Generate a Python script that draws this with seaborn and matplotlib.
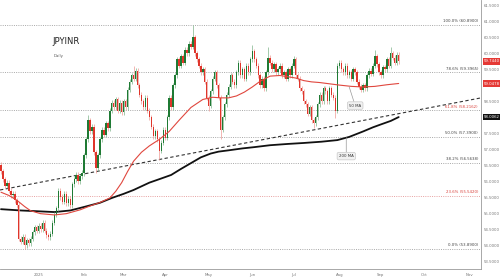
import numpy as np
import matplotlib
matplotlib.use("Agg")
import matplotlib.pyplot as plt
import matplotlib.transforms as mtransforms
import seaborn as sns

# ---------------- data ----------------
first_open = 56.50
closes = [
    56.30, 56.05, 55.85, 55.95, 55.70, 55.55, 55.60, 55.40, 55.25, 54.20,
    54.10, 54.25, 54.00, 54.15, 54.05, 54.20, 54.40, 54.55, 54.45, 54.60,
    54.50, 54.70, 54.45, 54.30, 54.25, 54.35, 54.70, 54.95, 55.15, 55.70,
    55.50, 55.35, 55.60, 55.30, 55.45, 55.25, 55.90, 56.05, 56.20, 56.00,
    56.15, 56.25, 56.80, 57.30, 57.90, 57.55, 57.70, 56.90, 56.40, 56.80,
    57.30, 57.60, 57.45, 57.80, 57.65, 58.20, 58.45, 58.30, 58.55, 58.20,
    58.45, 58.15, 58.50, 58.30, 58.85, 59.10, 59.30, 59.20, 59.45, 59.00,
    58.70, 58.50, 58.30, 58.60, 58.20, 58.00, 57.70, 57.40, 57.55, 57.30,
    56.95, 57.20, 57.60, 57.35, 58.00, 58.60, 58.30, 59.00, 59.30, 59.80,
    59.60, 59.90, 59.70, 60.10, 60.00, 60.30, 60.20, 60.50, 60.00, 59.80,
    59.60, 59.40, 59.50, 59.10, 58.60, 58.35, 58.80, 59.20, 59.40, 59.00,
    58.60, 57.60, 58.00, 58.40, 58.70, 58.95, 59.30, 59.10, 59.00, 59.40,
    59.70, 59.30, 59.50, 59.20, 59.60, 59.40, 59.80, 60.05, 59.80, 59.60,
    59.30, 59.00, 59.20, 58.90, 59.40, 59.85, 59.70, 59.50, 59.65, 59.40,
    59.50, 59.60, 59.30, 59.40, 59.20, 59.50, 59.30, 59.60, 59.80, 59.30,
    59.20, 58.90, 58.80, 58.50, 58.40, 58.10, 58.30, 57.90, 57.80, 58.00,
    58.40, 58.70, 58.50, 58.90, 58.80, 58.50, 58.90, 58.70, 58.60, 58.20,
    59.60, 59.70, 59.50, 59.40, 59.60, 59.30, 59.40, 59.20, 59.50, 59.40,
    59.10, 58.95, 58.85, 59.00, 58.90, 59.30, 59.45, 59.35, 59.60, 59.90,
    59.65, 59.40, 59.30, 59.55, 59.50, 59.80, 59.60, 60.00, 59.85, 59.70,
    59.95, 59.74,
]
wick = 0.08
high_marks = {44: 58.05, 67: 59.60, 97: 60.89, 127: 60.25, 135: 60.20,
              148: 59.90, 189: 60.10, 197: 60.20}
low_marks = {12: 53.89, 48: 56.25, 80: 56.65, 105: 58.20, 111: 57.30,
             158: 57.66, 169: 57.97}

ma50_idx = [0, 4, 8, 12, 15, 20, 27, 33, 40, 45, 50, 55, 58, 61, 64, 67,
            71, 75, 80, 85, 90, 96, 102, 107, 111, 115, 119, 123, 127, 131,
            136, 141, 145, 149, 153, 157, 161, 166, 171, 177, 183, 189, 195,
            201]
ma50_val = [55.65, 55.55, 55.40, 55.20, 55.07, 54.98, 54.94, 54.98, 55.10,
            55.22, 55.33, 55.47, 55.68, 55.95, 56.30, 56.62, 56.90, 57.10,
            57.30, 57.55, 57.90, 58.30, 58.55, 58.62, 58.60, 58.60, 58.66,
            58.78, 58.94, 59.12, 59.28, 59.30, 59.26, 59.22, 59.14, 59.10,
            59.08, 59.04, 59.00, 58.96, 58.94, 58.96, 59.01, 59.05]

ma200_idx = [0, 10, 17, 27, 35, 42, 50, 56, 62, 67, 75, 81, 86, 91, 96,
             101, 106, 110, 115, 122, 128, 136, 145, 153, 162, 170, 176,
             183, 188, 192, 197, 201]
ma200_val = [55.12, 55.08, 55.06, 55.03, 55.08, 55.19, 55.32, 55.47, 55.60,
             55.72, 55.95, 56.08, 56.19, 56.38, 56.56, 56.74, 56.86, 56.92,
             56.96, 57.02, 57.06, 57.12, 57.16, 57.19, 57.23, 57.28, 57.38,
             57.55, 57.68, 57.77, 57.88, 58.00]

trend_idx = [-0.5, 242.6]
trend_val = [55.72, 58.60]

fib_pct = ["100.0%", "78.6%", "61.8%", "50.0%", "38.2%", "23.6%", "0.0%"]
fib_val = [60.8900, 59.3965, 58.2162, 57.3900, 56.5638, 55.5420, 53.8900]
fib_red = [False, False, True, False, False, True, False]

month_idx = [19, 42, 62, 83, 105, 127, 148, 171, 192, 214, 237]
month_lbl = ["2025", "Feb", "Mar", "Apr", "May", "Jun", "Jul", "Aug", "Sep",
             "Oct", "Nov"]

price_ticks = [53.5 + 0.5 * k for k in range(17)]
last_price = 59.7440
ma50_last = 59.0478
ma200_last = 58.0062

# ---------------- drawing ----------------
sns.set_theme(style="white")
plt.rcParams["font.family"] = ["DejaVu Sans"]

fig = plt.figure(figsize=(5, 2.8), dpi=100)
ax = fig.add_axes([0, 11 / 280, 481 / 500, 269 / 280])

GREEN = "#1f7a34"
RED = "#e0352b"

n = len(closes)
idx = np.arange(n)
c = np.array(closes)
o = np.array([first_open] + closes[:-1])
hi = np.maximum(o, c) + wick
lo = np.minimum(o, c) - wick
for k, v in high_marks.items():
    hi[k] = v
for k, v in low_marks.items():
    lo[k] = v
up = c >= o
body_col = np.where(up, GREEN, RED)
wick_col = np.where(up, "#7fb38a", "#ef9a94")

# fib levels
blend = mtransforms.blended_transform_factory(ax.transAxes, ax.transData)
for pct, v, red in zip(fib_pct, fib_val, fib_red):
    lc = "#e7a0a0" if (red and pct == "23.6%") else "#a8a8a8"
    ax.axhline(v, color=lc, lw=0.7, ls=(0, (1, 1.3)), zorder=1)
    ax.text(0.994, v + 0.05, f"{pct} ({v:.4f})", transform=blend,
            ha="right", va="bottom", fontsize=2.8,
            color="#d9403a" if red else "#444444", zorder=2)

# trend line and moving averages
sns.lineplot(x=trend_idx, y=trend_val, ax=ax, color="#333333", lw=0.8,
             zorder=2).lines[-1].set_dashes((3, 2.2))
sns.lineplot(x=ma200_idx, y=ma200_val, ax=ax, color="#111111", lw=1.3,
             zorder=3)
sns.lineplot(x=ma50_idx, y=ma50_val, ax=ax, color="#e0473e", lw=0.8,
             zorder=5)

# candles
ax.vlines(idx, lo, hi, colors=wick_col, lw=0.5, zorder=4)
heights = np.maximum(np.abs(c - o), 0.02)
ax.bar(idx, heights, bottom=np.minimum(o, c), width=0.7, color=body_col,
       linewidth=0, zorder=4)

# MA callouts
box = dict(boxstyle="round,pad=0.45,rounding_size=0.4", fc="#f1f1f1",
           ec="#c8c8c8", lw=0.5)
ax.annotate("50 MA", xy=(176, 58.94), xytext=(179, 58.36), fontsize=2.8,
            ha="center", va="center", color="#333333", bbox=box,
            arrowprops=dict(arrowstyle="-", color="#999999", lw=0.5,
                            shrinkA=0, shrinkB=0), zorder=6)
ax.annotate("200 MA", xy=(174.5, 57.36), xytext=(174.5, 56.78), fontsize=2.8,
            ha="center", va="center", color="#333333", bbox=box,
            arrowprops=dict(arrowstyle="-", color="#999999", lw=0.5,
                            shrinkA=0, shrinkB=0), zorder=6)

# title
ax.text(0.109, 0.845, "JPYINR", transform=ax.transAxes, fontsize=6,
        color="#222222", ha="left", va="center")
ax.text(0.111, 0.79, "Daily", transform=ax.transAxes, fontsize=2.8,
        color="#555555", ha="left", va="center")

# axes
ax.set_xlim(-0.5, 242.6)
ax.set_ylim(53.25, 61.66)
ax.yaxis.tick_right()
ax.set_yticks(price_ticks)
# labels at 59.0 and 58.0 sit under the price tags in the reference
hidden = {59.0, 58.0}
ax.set_yticklabels(["" if t in hidden else f"{t:.4f}" for t in price_ticks])
ax.set_xticks(month_idx)
ax.set_xticklabels(month_lbl)
ax.tick_params(axis="both", length=0, labelsize=2.8, colors="#777777")
ax.tick_params(axis="y", pad=2)
ax.tick_params(axis="x", pad=3)
for s in ["left", "top"]:
    ax.spines[s].set_visible(False)
for s in ["right", "bottom"]:
    ax.spines[s].set_color("#9a9a9a")
    ax.spines[s].set_linewidth(0.6)
ax.set_xlabel("")
ax.set_ylabel("")

# price tags on the scale
for val, fc in [(last_price, "#e53935"), (ma50_last, "#e53935"),
                (ma200_last, "#111111")]:
    ax.text(1.006, val, f"{val:.4f}", transform=blend, ha="left",
            va="center", fontsize=2.8, color="white", clip_on=False,
            bbox=dict(boxstyle="square,pad=0.35", fc=fc, ec="none"),
            zorder=7)

fig.savefig("out.png", dpi=100)
